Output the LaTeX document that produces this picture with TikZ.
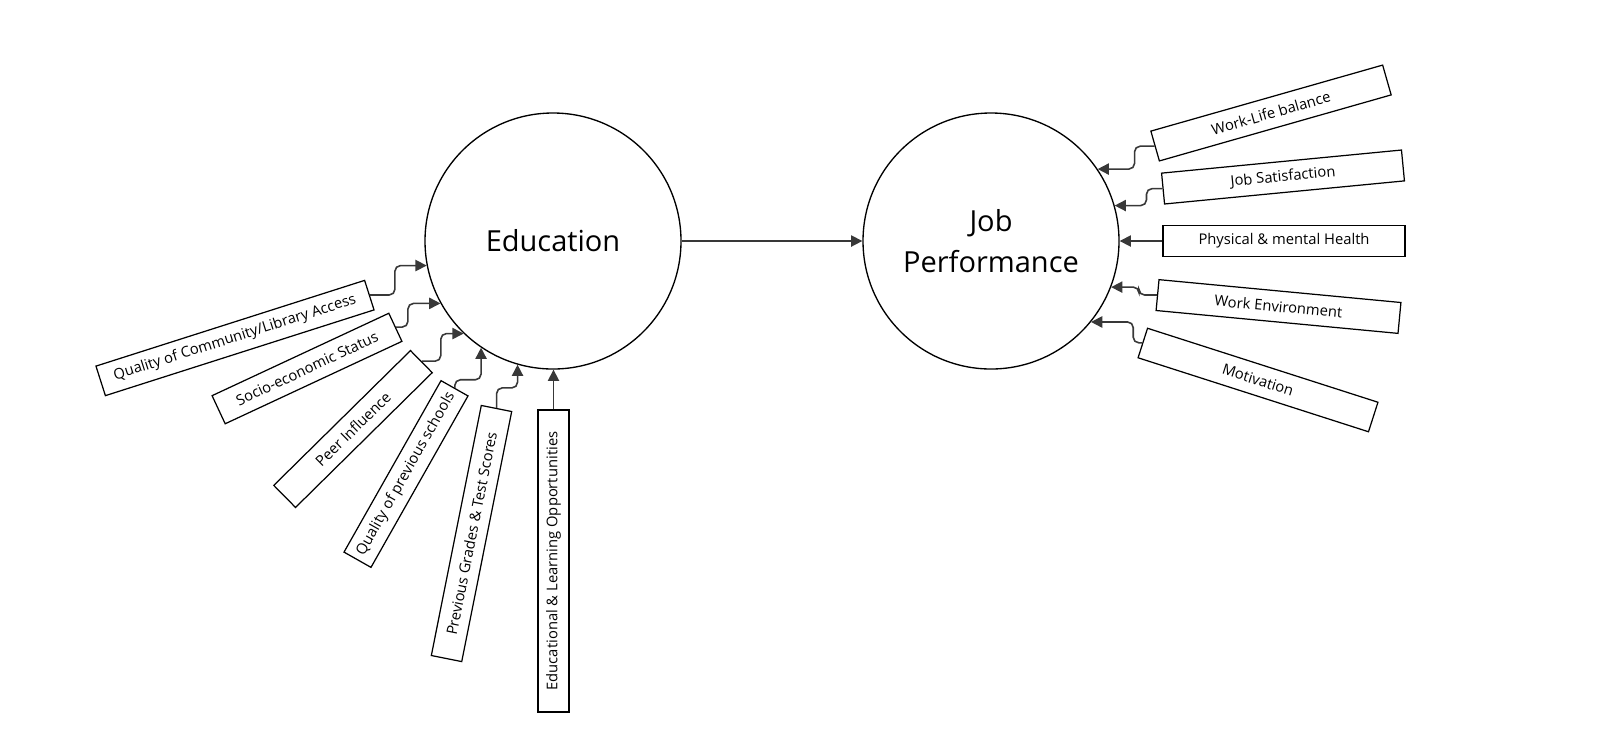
\documentclass[tikz,border=0pt]{standalone}
\usepackage{fontspec}
\setmainfont{Open Sans}
\usetikzlibrary{arrows.meta}

\definecolor{linkgray}{HTML}{383838}

\tikzset{
  factor/.style={draw=black, line width=0.35pt, minimum height=0.31cm, inner sep=0pt,
    font=\fontsize{4.2}{5}\selectfont},
  construct/.style={circle, draw=black, line width=0.38pt, minimum size=2.56cm, inner sep=0pt,
    align=center, font=\fontsize{8.25}{11.67}\selectfont},
  link/.style={draw=linkgray, line width=0.45pt, rounded corners=1.6pt,
    -{Triangle[length=3.2pt,width=3.2pt]}},
}

\begin{document}
\begin{tikzpicture}
\fill[white] (0,0) rectangle (16,7.49);
% the two constructs
\node[construct] (edu) at (5.53, 5.08) {Education};
\node[construct] (job) at (9.91, 5.08) {Job\\Performance};
\draw[link] (edu.east) -- (job.west);
% factors of education
\node[factor, minimum width=2.82cm, rotate=17.7] (comm) at (2.35, 4.11) {Quality of Community/Library Access};
\node[factor, minimum width=1.95cm, rotate=25] (ses) at (3.07, 3.805) {Socio-economic Status};
\node[factor, minimum width=1.92cm, rotate=44.6] (peer) at (3.53, 3.20) {Peer Influence};
\node[factor, minimum width=1.97cm, rotate=60.5] (school) at (4.06, 2.75) {Quality of previous schools};
\node[factor, minimum width=2.55cm, rotate=78.7] (grades) at (4.715, 2.155) {Previous Grades \& Test Scores};
\node[factor, minimum width=3.02cm, rotate=90] (opps) at (5.535, 1.88) {Educational \& Learning Opportunities};
\draw[link] (comm.east) -- ++(0.25,0) |- (edu.191);
\draw[link] (ses.east) -- ++(0.12,0) |- (edu.209);
\draw[link] (peer.east) -- ++(0.19,0) |- (edu.226);
\draw[link] (school.east) -- ++(0,0.08) -| (edu.236);
\draw[link] (grades.east) -- ++(0,0.20) -| (edu.254.5);
\draw[link] (opps.east) -- (opps.east |- edu.south);
% factors of job performance
\node[factor, minimum width=2.41cm, rotate=15.9] (wlb) at (12.71, 6.36) {Work-Life balance};
\node[factor, minimum width=2.41cm, rotate=5.5] (sat) at (12.83, 5.72) {Job Satisfaction};
\node[factor, minimum width=2.42cm] (health) at (12.84, 5.08) {Physical \& mental Health};
\node[factor, minimum width=2.43cm, rotate=-5.4] (env) at (12.785, 4.425) {Work Environment};
\node[factor, minimum width=2.42cm, rotate=-17.8] (motiv) at (12.58, 3.69) {Motivation};
\draw[link] (wlb.west) -- ++(-0.20,0) |- (job.34);
\draw[link] (sat.west) -- ++(-0.16,0) |- (job.16);
\draw[link] (health.west) -- (job.east);
\draw[link] (env.west) -- ++(-0.18,0) |- (job.-21);
\draw[link] (motiv.west) -- ++(-0.09,0) |- (job.-39);
\end{tikzpicture}
\end{document}
